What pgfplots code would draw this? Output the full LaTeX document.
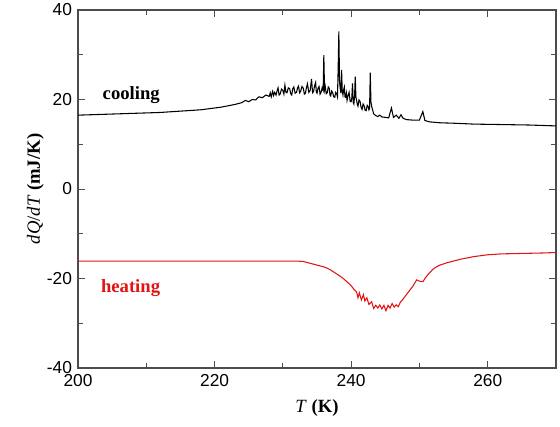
\documentclass[border=0pt]{standalone}
\usepackage{fontspec}
\setmainfont{Liberation Serif}
\setsansfont{Liberation Sans}
\usepackage{pgfplots}
\pgfplotsset{compat=1.18}
\definecolor{heatred}{RGB}{225,20,20}
\begin{document}
\begin{tikzpicture}
\begin{axis}[
  scale only axis,
  width=358.5pt, height=268.5pt,
  xmin=200, xmax=270, ymin=-40, ymax=40,
  xtick={200,220,240,260}, ytick={-40,-20,0,20,40},
  minor x tick num=1, minor y tick num=1,
  tick align=inside,
  major tick length=5pt, minor tick length=3.5pt,
  axis line style={black!70, line width=0.8pt},
  every tick/.style={black!70, line width=0.7pt},
  tick label style={font=\sffamily\fontsize{13}{15}\selectfont},
  /pgf/number format/assume math mode=true,
  xticklabel style={yshift=-1pt},
  yticklabel style={xshift=-1pt},
  xlabel={\textit{T} \textbf{(K)}},
  ylabel={\textit{dQ}/\textit{dT} \textbf{(mJ/K)}},
  label style={font=\fontsize{14}{16}\selectfont},
  xlabel style={at={(axis description cs:0.5,0)}, anchor=north, yshift=-20pt},
  ylabel style={at={(axis description cs:0,0.5)}, anchor=south, yshift=22pt},
  clip=true,
]
\addplot[black, line width=0.8pt] coordinates {
(200,16.5) (202,16.6) (204,16.7) (206,16.8) (208,16.9) (210,17.0) (212,17.1)
(214,17.3) (216,17.5) (218,17.7) (219,17.9) (220,18.1) (221,18.3) (222,18.6)
(223,18.9) (224,19.3) (224.5,19.8) (225,19.5) (225.5,20.0) (226,19.9) (226.5,20.6)
(227,20.4) (227.5,21.0)
(228,20.7)(228.15,21.5)(228.3,20.6)(228.5,21.8)(228.65,20.9)(228.8,21.6)(229,21.0)(229.15,21.9)
(229.3,22.6)(229.45,21.0)(229.6,21.2)(229.8,22.3)(230,22.0)(230.15,21.2)(230.3,23.2)(230.45,21.6)
(230.6,21.5)(230.8,22.6)(231,22.4)(231.15,21.3)(231.3,21.0)(231.45,22.4)(231.6,22.8)(231.8,21.4)
(232,21.6)(232.15,22.6)(232.3,23.0)(232.45,21.5)(232.6,21.8)(232.8,22.9)(233,22.5)(233.15,21.2)
(233.3,21.4)(233.45,22.6)(233.6,23.5)(233.8,21.6)(234,22.0)(234.2,24.6)(234.35,21.5)(234.5,21.8)
(234.65,23.1)(234.8,23.8)(234.9,21.7)(235,21.4)(235.15,22.5)(235.3,22.9)(235.45,21.2)(235.6,21.6)
(235.75,22.6)(235.9,22.0)(236.0,29.9)(236.1,22.2)(236.2,23.0)(236.35,21.3)(236.5,21.5)(236.65,22.8)
(236.8,22.5)(236.9,21.0)(237,20.8)(237.15,21.9)(237.3,21.5)(237.45,20.6)(237.6,20.5)(237.75,21.6)
(237.9,21.2)(238.0,20.6)(238.1,27.0)(238.2,35.2)(238.3,24.0)(238.4,22.5)(238.5,21.4)(238.6,26.6)
(238.7,21.8)(238.8,21.0)(238.9,22.2)(239.0,22.8)(239.1,20.6)(239.2,20.5)(239.3,21.4)(239.4,19.8)
(239.55,20.9)(239.7,21.6)(239.85,19.6)(240.0,19.5)(240.1,20.4)(240.2,23.6)(240.3,19.4)(240.4,19.0)
(240.5,20.6)(240.6,25.1)(240.7,20.5)(240.8,19.8)(240.9,18.9)(241.0,18.5)(241.15,19.9)(241.3,19.6)
(241.45,18.3)(241.6,17.8)(241.75,19.0)(241.9,18.6)(242.05,17.6)(242.2,17.5)(242.35,18.7)(242.5,18.4)
(242.6,17.7)(242.7,18.0)(242.8,26.0)(242.9,19.4)
(243.0,18.5) (243.3,16.8) (243.6,16.4) (243.9,16.2) (244.2,16.5) (244.5,16.1)
(245.0,16.0) (245.5,15.9) (245.9,18.1) (246.2,16.0) (246.6,16.5) (247.0,15.8) (247.3,16.6)
(247.6,15.8) (248.1,15.5) (249,15.4) (250,15.4) (250.5,17.3) (250.8,15.3) (251.5,15.0)
(253,14.8) (255,14.7) (258,14.5) (262,14.4) (266,14.3) (270,14.1)
};
\addplot[heatred, line width=0.8pt] coordinates {
(200,-16.1) (210,-16.1) (220,-16.1) (228,-16.1) (230,-16.1) (232,-16.1) (233,-16.2)
(234,-16.6) (235,-17.0) (236,-17.4) (236.5,-17.7) (237,-18.1) (237.5,-18.6) (238,-19.1)
(238.5,-19.6) (239,-20.2) (239.5,-20.9) (240,-21.6) (240.4,-22.4) (240.8,-23.0) (241,-24.3)
(241.2,-23.2) (241.5,-24.8) (241.8,-23.6) (242,-25.0) (242.3,-24.3) (242.6,-25.8) (243,-25.2)
(243.3,-26.7) (243.6,-26.0) (243.9,-26.6) (244.2,-25.9) (244.5,-26.8) (244.8,-26.0) (245.1,-27.2)
(245.4,-26.0) (245.7,-26.6) (246,-25.6) (246.3,-26.4) (246.6,-25.9) (246.9,-26.3) (247.2,-25.3)
(247.5,-24.8) (248,-23.8) (248.5,-22.8) (249,-21.8) (249.6,-20.3) (250,-20.6) (250.5,-20.7)
(251,-19.6) (251.5,-18.7) (252,-17.9) (252.5,-17.4) (253,-17.0) (254,-16.5) (255,-16.1)
(256,-15.7) (257,-15.4) (258,-15.1) (259,-14.9) (260,-14.7) (262,-14.5) (265,-14.4)
(268,-14.3) (270,-14.2)
};
\node[font=\bfseries\fontsize{14}{16}\selectfont] at (axis cs:207.8,20.9) {cooling};
\node[font=\bfseries\fontsize{14}{16}\selectfont, text=heatred] at (axis cs:207.7,-22.2) {heating};
\end{axis}
\pgfresetboundingbox
\path[use as bounding box] ([xshift=-58.5pt,yshift=-43.5pt]current axis.south west) rectangle ([xshift=3pt,yshift=7.5pt]current axis.north east);
\end{tikzpicture}
\end{document}
